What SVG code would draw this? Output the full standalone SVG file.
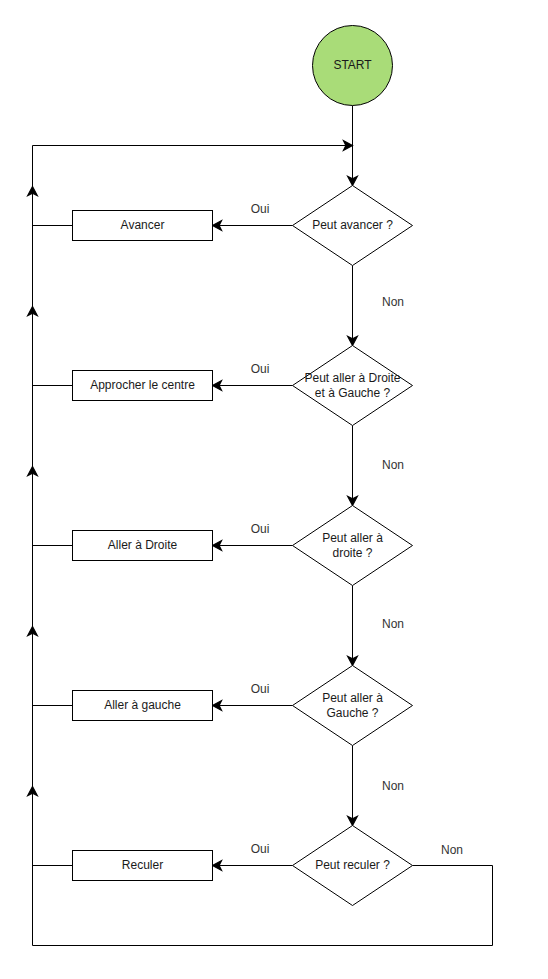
<svg xmlns="http://www.w3.org/2000/svg" width="548" height="979" viewBox="0 0 548 979">
<style>
.shape{fill:#ffffff;stroke:#000000;stroke-width:1}
.start{fill:#a9dc78;stroke:#000000;stroke-width:1}
.conn{fill:none;stroke:#000000;stroke-width:1}
text{font-family:"Liberation Sans",Arial,sans-serif;font-size:12px;fill:#1a1a1a;text-anchor:middle}
.lbl{fill:#333333}
</style>
<defs>
<marker id="arr" markerUnits="userSpaceOnUse" markerWidth="12" markerHeight="12" viewBox="-9 -5 10 10" refX="0" refY="0" orient="auto" overflow="visible">
<path d="M0,0 L-7.5,-4 L-5.5,0 L-7.5,4 Z" fill="#000000" stroke="#000000" stroke-width="1" stroke-linejoin="miter"/>
</marker>
</defs>
<rect width="548" height="979" fill="#ffffff"/>
<g id="connectors">
<path class="conn" d="M352.5 105.5 V185.5" marker-end="url(#arr)"/>
<path class="conn" d="M72.5 225.5 H32.5 V145.5 H352.5" marker-end="url(#arr)"/>
<path class="conn" d="M72.5 385.5 H32.5 V186.5" marker-end="url(#arr)"/>
<path class="conn" d="M72.5 545.5 H32.5 V306.5" marker-end="url(#arr)"/>
<path class="conn" d="M72.5 705.5 H32.5 V466.5" marker-end="url(#arr)"/>
<path class="conn" d="M72.5 865.5 H32.5 V626.5" marker-end="url(#arr)"/>
<path class="conn" d="M412.5 865.5 H492.5 V945.5 H32.5 V786.5" marker-end="url(#arr)"/>
<path class="conn" d="M292.5 225.5 H212.5" marker-end="url(#arr)"/>
<path class="conn" d="M292.5 385.5 H212.5" marker-end="url(#arr)"/>
<path class="conn" d="M292.5 545.5 H212.5" marker-end="url(#arr)"/>
<path class="conn" d="M292.5 705.5 H212.5" marker-end="url(#arr)"/>
<path class="conn" d="M292.5 865.5 H212.5" marker-end="url(#arr)"/>
<path class="conn" d="M352.5 265.5 V345.5" marker-end="url(#arr)"/>
<path class="conn" d="M352.5 425.5 V505.5" marker-end="url(#arr)"/>
<path class="conn" d="M352.5 585.5 V665.5" marker-end="url(#arr)"/>
<path class="conn" d="M352.5 745.5 V825.5" marker-end="url(#arr)"/>
<text class="lbl" x="260" y="213">Oui</text>
<text class="lbl" x="260" y="373">Oui</text>
<text class="lbl" x="260" y="533">Oui</text>
<text class="lbl" x="260" y="693">Oui</text>
<text class="lbl" x="260" y="853">Oui</text>
<text class="lbl" x="393" y="306">Non</text>
<text class="lbl" x="393" y="469">Non</text>
<text class="lbl" x="393" y="628">Non</text>
<text class="lbl" x="393" y="790">Non</text>
<text class="lbl" x="452" y="854">Non</text>
</g>
<g id="start">
<circle class="start" cx="352.5" cy="65.5" r="40"/>
<text x="352.5" y="68.5">START</text>
</g>
<g id="d1">
<path class="shape" d="M352.5 185.5 L412.5 225.5 L352.5 265.5 L292.5 225.5 Z"/>
<text x="352.5" y="228.5">Peut avancer ?</text>
</g>
<g id="d2">
<path class="shape" d="M352.5 345.5 L412.5 385.5 L352.5 425.5 L292.5 385.5 Z"/>
<text x="352.5" y="382">Peut aller à Droite</text>
<text x="352.5" y="397">et à Gauche ?</text>
</g>
<g id="d3">
<path class="shape" d="M352.5 505.5 L412.5 545.5 L352.5 585.5 L292.5 545.5 Z"/>
<text x="352.5" y="542">Peut aller à</text>
<text x="352.5" y="557">droite ?</text>
</g>
<g id="d4">
<path class="shape" d="M352.5 665.5 L412.5 705.5 L352.5 745.5 L292.5 705.5 Z"/>
<text x="352.5" y="702">Peut aller à</text>
<text x="352.5" y="717">Gauche ?</text>
</g>
<g id="d5">
<path class="shape" d="M352.5 825.5 L412.5 865.5 L352.5 905.5 L292.5 865.5 Z"/>
<text x="352.5" y="868.5">Peut reculer ?</text>
</g>
<g id="r1">
<rect class="shape" x="72.5" y="210.5" width="140" height="30"/>
<text x="142.5" y="228.5">Avancer</text>
</g>
<g id="r2">
<rect class="shape" x="72.5" y="370.5" width="140" height="30"/>
<text x="142.5" y="388.5">Approcher le centre</text>
</g>
<g id="r3">
<rect class="shape" x="72.5" y="530.5" width="140" height="30"/>
<text x="142.5" y="548.5">Aller à Droite</text>
</g>
<g id="r4">
<rect class="shape" x="72.5" y="690.5" width="140" height="30"/>
<text x="142.5" y="708.5">Aller à gauche</text>
</g>
<g id="r5">
<rect class="shape" x="72.5" y="850.5" width="140" height="30"/>
<text x="142.5" y="868.5">Reculer</text>
</g>
</svg>
